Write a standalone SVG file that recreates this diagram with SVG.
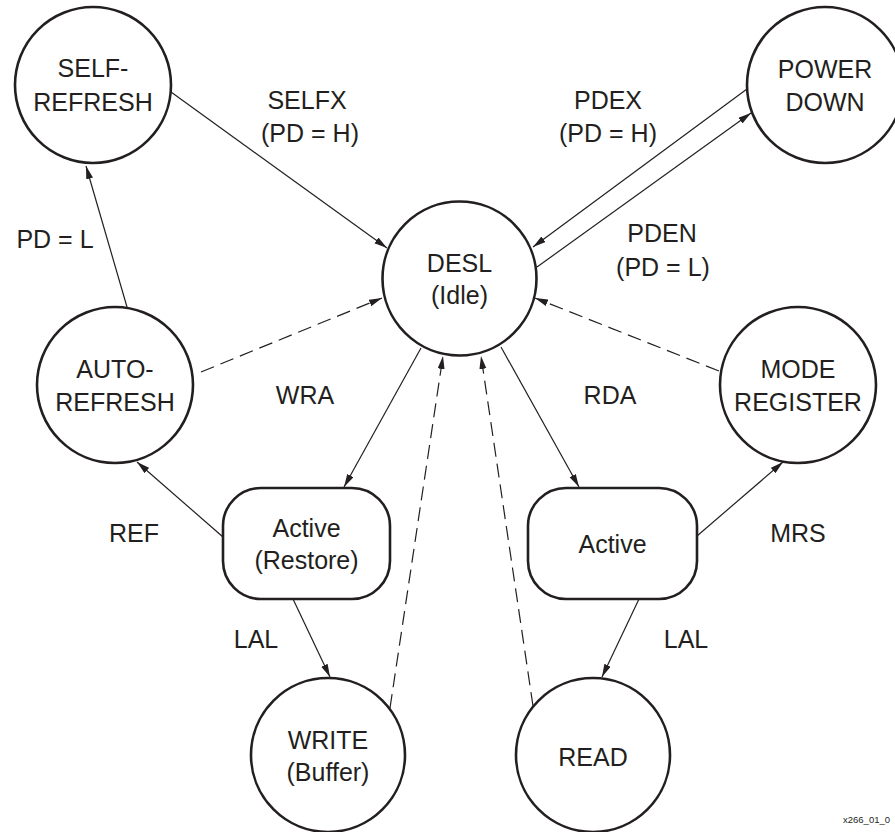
<svg xmlns="http://www.w3.org/2000/svg" width="895" height="832" viewBox="0 0 895 832">
<style>
.n{fill:#fff;stroke:#231f20;stroke-width:2.6}
.t{font-family:"Liberation Sans",Arial,sans-serif;font-size:25px;fill:#231f20;text-anchor:middle}
.c{fill:none;stroke:#231f20;stroke-width:1.2;marker-end:url(#ah)}
.d{stroke-dasharray:14 7}
.s{font-family:"Liberation Sans",Arial,sans-serif;font-size:9.5px;fill:#231f20}
</style>
<defs>
<marker id="ah" markerUnits="userSpaceOnUse" markerWidth="14" markerHeight="8" refX="13" refY="3.5" orient="auto">
<path d="M0,0 L13,3.5 L0,7 z" fill="#231f20"/>
</marker>
</defs>
<rect width="895" height="832" fill="#fff"/>
<g id="connectors">
<line class="c" x1="171" y1="92" x2="387" y2="248"/>
<line class="c" x1="127" y1="307" x2="86" y2="166"/>
<line class="c" x1="747" y1="89" x2="533" y2="247"/>
<line class="c" x1="537" y1="267" x2="751" y2="113"/>
<line class="c d" x1="719" y1="371" x2="535" y2="298"/>
<line class="c d" x1="201" y1="372" x2="382" y2="298"/>
<line class="c" x1="421" y1="348" x2="344" y2="487"/>
<line class="c" x1="501" y1="347" x2="579" y2="487"/>
<line class="c" x1="223" y1="537" x2="137" y2="462"/>
<line class="c" x1="697" y1="536" x2="783" y2="462"/>
<line class="c" x1="293" y1="599" x2="330" y2="677"/>
<line class="c" x1="639" y1="599" x2="602" y2="677"/>
<line class="c d" x1="390" y1="708" x2="443" y2="356"/>
<line class="c d" x1="533" y1="706" x2="481" y2="356"/>
</g>
<g id="labels">
<text class="t" x="307" y="109">SELFX</text>
<text class="t" x="310" y="142">(PD = H)</text>
<text class="t" x="608" y="109">PDEX</text>
<text class="t" x="608" y="142">(PD = H)</text>
<text class="t" x="662" y="242">PDEN</text>
<text class="t" x="663" y="276">(PD = L)</text>
<text class="t" x="55" y="248">PD = L</text>
<text class="t" x="305" y="404">WRA</text>
<text class="t" x="610" y="404">RDA</text>
<text class="t" x="134" y="542">REF</text>
<text class="t" x="798" y="542">MRS</text>
<text class="t" x="256" y="648">LAL</text>
<text class="t" x="686" y="648">LAL</text>
<text class="s" x="843" y="823">x266_01_0</text>
</g>
<g id="self-refresh">
<circle class="n" cx="93" cy="85" r="78"/>
<text class="t" x="93" y="77">SELF-</text>
<text class="t" x="93" y="111">REFRESH</text>
</g>
<g id="power-down">
<circle class="n" cx="825" cy="85" r="78"/>
<text class="t" x="825" y="78">POWER</text>
<text class="t" x="825" y="111">DOWN</text>
</g>
<g id="desl">
<circle class="n" cx="459.5" cy="278.5" r="77"/>
<text class="t" x="459.5" y="272">DESL</text>
<text class="t" x="459.5" y="304">(Idle)</text>
</g>
<g id="auto-refresh">
<circle class="n" cx="115" cy="385" r="78"/>
<text class="t" x="115" y="378">AUTO-</text>
<text class="t" x="115" y="411">REFRESH</text>
</g>
<g id="mode-register">
<circle class="n" cx="798" cy="385" r="78"/>
<text class="t" x="798" y="378">MODE</text>
<text class="t" x="798" y="411">REGISTER</text>
</g>
<g id="active-restore">
<rect class="n" x="223" y="488" width="167" height="111" rx="38" ry="38"/>
<text class="t" x="306.5" y="537">Active</text>
<text class="t" x="306.5" y="569">(Restore)</text>
</g>
<g id="active">
<rect class="n" x="528" y="488" width="169" height="111" rx="38" ry="38"/>
<text class="t" x="612.5" y="553">Active</text>
</g>
<g id="write">
<circle class="n" cx="328" cy="755" r="77"/>
<text class="t" x="328" y="749">WRITE</text>
<text class="t" x="328" y="781">(Buffer)</text>
</g>
<g id="read">
<circle class="n" cx="593" cy="755" r="77"/>
<text class="t" x="593" y="766">READ</text>
</g>
</svg>
